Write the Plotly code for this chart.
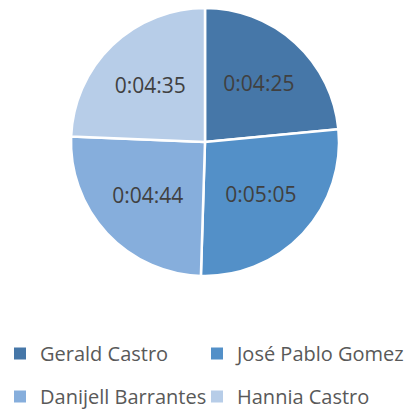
import plotly.graph_objects as go

names = ["Gerald Castro", "José Pablo Gomez", "Danijell Barrantes", "Hannia Castro"]
durations = ["0:04:25", "0:05:05", "0:04:44", "0:04:35"]
colors = ["#4677A8", "#5390C8", "#86AEDC", "#B7CDE8"]

def to_sec(s):
    h, m, sec = s.split(":")
    return int(h) * 3600 + int(m) * 60 + int(sec)

values = [to_sec(d) for d in durations]

fig = go.Figure(go.Pie(
    labels=names,
    values=values,
    text=durations,
    textinfo="text",
    textposition="inside",
    insidetextorientation="horizontal",
    sort=False,
    direction="clockwise",
    rotation=0,
    marker=dict(colors=colors, line=dict(color="white", width=2.5)),
    textfont=dict(size=21, color="#404040", family="Open Sans"),
    domain=dict(x=[71/415, 339/415], y=[1-277/410, 1-7/410]),
    hoverinfo="skip",
    showlegend=False,
))

# legend entries: left column (legend) and right column (legend2)
for i, (n, c) in enumerate(zip(names, colors)):
    fig.add_trace(go.Scatter(
        x=[None], y=[None], mode="markers", name=n,
        marker=dict(symbol="square", size=8, color=c),
        legend="legend" if i % 2 == 0 else "legend2",
        legendgroup=f"g{i}",
        hoverinfo="skip",
    ))

leg_common = dict(
    orientation="v", xanchor="left", yanchor="top",
    tracegroupgap=14,
    font=dict(size=20, color="#595959", family="Open Sans"),
    itemsizing="constant", bgcolor="rgba(0,0,0,0)",
)

fig.update_layout(
    width=415, height=410,
    margin=dict(l=0, r=0, t=0, b=0, autoexpand=False),
    paper_bgcolor="white",
    plot_bgcolor="white",
    xaxis=dict(visible=False),
    yaxis=dict(visible=False),
    legend=dict(x=0, y=1-334/410, **leg_common),
    legend2=dict(x=197/415, y=1-334/410, **leg_common),
    font=dict(family="Open Sans"),
)

fig.write_html("out.html", config={"displayModeBar": False},
               post_script="document.body.style.margin='0';")
